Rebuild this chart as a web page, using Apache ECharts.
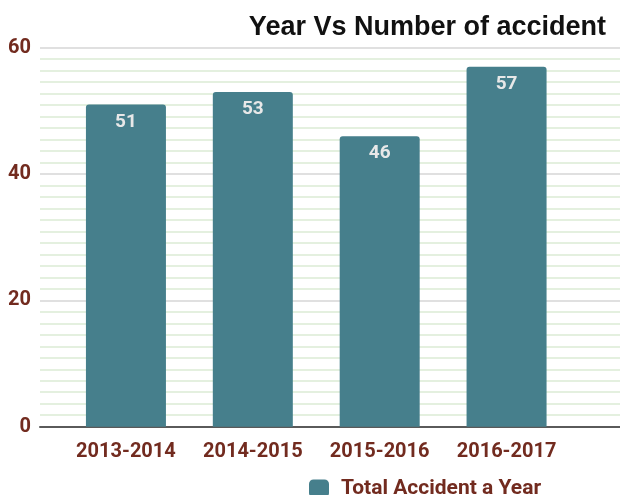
<!DOCTYPE html>
<html>
<head>
<meta charset="utf-8">
<script src="https://cdn.jsdelivr.net/npm/echarts@6/dist/echarts.min.js"></script>
<style>html,body{margin:0;padding:0;background:#fff}#c{width:620px;height:495px}</style>
</head>
<body>
<div id="c"></div>
<script>
const categories = ['2013-2014', '2014-2015', '2015-2016', '2016-2017'];
const accidents = [51, 53, 46, 57];
const yTicks = [0, 20, 40, 60];
const seriesName = 'Total Accident a Year';
const titleText = 'Year Vs Number of accident';

const labelColor = '#722b1f';
const chart = echarts.init(document.getElementById('c'), null, {renderer: 'canvas'});
chart.setOption({
  animation: false,
  title: {
    text: titleText, right: 9, top: 9,
    textStyle: {fontFamily: 'Liberation Sans', fontWeight: 'bold', fontSize: 27, color: '#111'}
  },
  legend: {
    data: [seriesName], left: 304, top: 473, icon: 'roundRect',
    itemWidth: 20, itemHeight: 18, itemGap: 10,
    textStyle: {fontFamily: 'Roboto', fontWeight: 'bold', fontSize: 21, color: labelColor, padding: [0,0,0,7]}
  },
  grid: [
    {left: 40, right: 0, top: 47.7, bottom: 68.3},
    {left: 62.5, right: 50, top: 47.7, bottom: 68.3}
  ],
  xAxis: [
    {gridIndex: 0, type: 'category', data: categories, axisLabel: {show: false}, axisTick: {show: false},
     axisLine: {show: true, lineStyle: {color: '#5a5a5a', width: 2}}, splitLine: {show: false}},
    {gridIndex: 1, type: 'category', data: categories, axisTick: {show: false}, axisLine: {show: false},
     axisLabel: {interval: 0, hideOverlap: false, margin: 15, fontFamily: 'Roboto', fontWeight: 'bold', fontSize: 20, color: labelColor}}
  ],
  yAxis: [
    {gridIndex: 0, type: 'value', min: yTicks[0], max: yTicks[yTicks.length-1], interval: 20,
     axisLine: {show: false}, axisTick: {show: false},
     axisLabel: {margin: 9, fontFamily: 'Roboto', fontWeight: 'bold', fontSize: 20, color: labelColor},
     splitLine: {show: true, lineStyle: {color: '#d6d6d6', width: 1.5}},
     minorTick: {show: false, splitNumber: 11},
     minorSplitLine: {show: true, lineStyle: {color: '#dcebd5', width: 1.5}}},
    {gridIndex: 1, type: 'value', min: 0, max: 60, show: false, splitLine: {show: false}}
  ],
  series: [{
    name: seriesName, type: 'bar', xAxisIndex: 1, yAxisIndex: 1, data: accidents,
    barWidth: 80,
    itemStyle: {color: '#467f8c', borderRadius: [3,3,0,0]},
    label: {show: true, position: 'insideTop', distance: 8, fontFamily: 'Roboto', fontWeight: 'bold', fontSize: 19, color: '#e8e8e8'}
  }]
});
</script>
</body>
</html>
